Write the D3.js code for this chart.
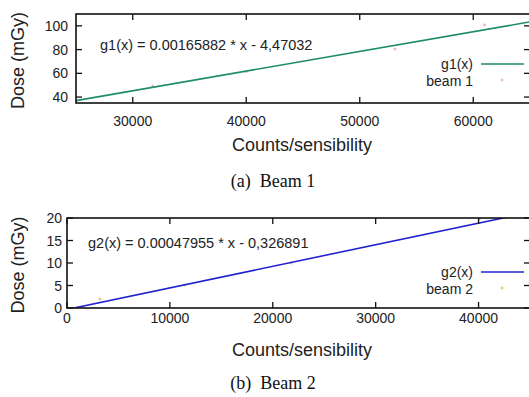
<!DOCTYPE html>
<html>
<head>
<meta charset="utf-8">
<script src="https://cdn.jsdelivr.net/npm/d3@7"></script>
<style>
  body { margin: 0; background: #fff; }
  svg { display: block; }
  .tick-label { font-family: "Liberation Sans", Arial, sans-serif; font-size: 14px; fill: #222; }
  .formula { font-family: "Liberation Sans", Arial, sans-serif; font-size: 14.5px; fill: #222; }
  .title { font-family: "Liberation Sans", Arial, sans-serif; font-size: 18px; fill: #222; }
  .caption { font-family: "Liberation Serif", "Times New Roman", serif; font-size: 18px; fill: #111; }
</style>
</head>
<body>
<div id="canvas"></div>
<script>
// beam 1 measurements (counts/sensibility vs dose in mGy)
const beam1X = [31750, 40000, 53100, 61000];
const beam1Y = [49.3, 61.3, 80.5, 100.8];
// beam 2 measurements
const beam2X = [3200, 11400, 21800, 40100];
const beam2Y = [2.0, 5.1, 10.0, 19.8];

// linear fits shown in the plots
const fit1 = {slope: 0.00165882, offset: -4.47032};
const fit2 = {slope: 0.00047955, offset: -0.326891};
const fit1Label = "g1(x) = 0.00165882 * x - 4,47032";
const fit2Label = "g2(x) = 0.00047955 * x - 0,326891";

// axis ticks
const xTicks1 = [30000, 40000, 50000, 60000];
const yTicks1 = [40, 60, 80, 100];
const xTicks2 = [0, 10000, 20000, 30000, 40000];
const yTicks2 = [0, 5, 10, 15, 20];

const W = 529, H = 397;
const svg = d3.select("#canvas")
    .append("svg")
    .attr("width", W)
    .attr("height", H);

// one gnuplot-like panel
function drawPanel(opt) {
    const x = d3.scaleLinear().domain(opt.xDomain).range([opt.left, opt.right]);
    const y = d3.scaleLinear().domain(opt.yDomain).range([opt.bottom, opt.top]);
    const g = svg.append("g");
    const tl = 6;

    const clipId = "clip-" + opt.id;
    g.append("clipPath").attr("id", clipId)
        .append("rect")
        .attr("x", opt.left).attr("y", opt.top)
        .attr("width", opt.right - opt.left).attr("height", opt.bottom - opt.top);

    // data points (small crosses)
    const pts = g.append("g").attr("clip-path", "url(#" + clipId + ")");
    opt.xs.forEach(function(v, i) {
        const px = x(v), py = y(opt.ys[i]);
        pts.append("path")
            .attr("d", "M" + (px - 1.5) + "," + py + "H" + (px + 1.5) + "M" + px + "," + (py - 1.5) + "V" + (py + 1.5))
            .style("stroke", opt.pointColor)
            .style("stroke-width", 1);
    });

    // fitted line
    const line = d3.line().x(d => x(d)).y(d => y(opt.fit.slope * d + opt.fit.offset));
    g.append("path")
        .datum(opt.xDomain)
        .attr("clip-path", "url(#" + clipId + ")")
        .attr("d", line)
        .style("fill", "none")
        .style("stroke", opt.lineColor)
        .style("stroke-width", 1.6);

    // ticks, inward and mirrored
    const ticks = g.append("g").style("stroke", "#111").style("stroke-width", 1.3);
    opt.xTicks.forEach(function(t) {
        ticks.append("line").attr("x1", x(t)).attr("x2", x(t)).attr("y1", opt.bottom).attr("y2", opt.bottom - tl);
        ticks.append("line").attr("x1", x(t)).attr("x2", x(t)).attr("y1", opt.top).attr("y2", opt.top + tl);
        g.append("text").attr("class", "tick-label")
            .attr("x", x(t)).attr("y", opt.xLabelY)
            .attr("text-anchor", "middle").attr("dominant-baseline", "central")
            .text(t);
    });
    opt.yTicks.forEach(function(t) {
        ticks.append("line").attr("x1", opt.left).attr("x2", opt.left + tl).attr("y1", y(t)).attr("y2", y(t));
        ticks.append("line").attr("x1", opt.right).attr("x2", opt.right - tl).attr("y1", y(t)).attr("y2", y(t));
        g.append("text").attr("class", "tick-label")
            .attr("x", opt.left - opt.yLabelGap).attr("y", y(t))
            .attr("text-anchor", "end").attr("dominant-baseline", "central")
            .text(t);
    });

    // frame
    g.append("rect")
        .attr("x", opt.left).attr("y", opt.top)
        .attr("width", opt.right - opt.left).attr("height", opt.bottom - opt.top)
        .style("fill", "none").style("stroke", "#111").style("stroke-width", 1.6);

    // fit formula
    g.append("text").attr("class", "formula")
        .attr("x", opt.labelX).attr("y", opt.labelY)
        .attr("dominant-baseline", "central")
        .text(opt.fitLabel);

    // key
    g.append("text").attr("class", "tick-label")
        .attr("x", 473).attr("y", opt.keyY)
        .attr("text-anchor", "end").attr("dominant-baseline", "central")
        .text(opt.keyNames[0]);
    g.append("line")
        .attr("x1", 481).attr("x2", 524).attr("y1", opt.keyY).attr("y2", opt.keyY)
        .style("stroke", opt.lineColor).style("stroke-width", 1.6);
    g.append("text").attr("class", "tick-label")
        .attr("x", 473).attr("y", opt.keyY + 17)
        .attr("text-anchor", "end").attr("dominant-baseline", "central")
        .text(opt.keyNames[1]);
    g.append("path")
        .attr("d", "M500.5," + (opt.keyY + 16) + "H503.5M502," + (opt.keyY + 14.5) + "V" + (opt.keyY + 17.5))
        .style("stroke", opt.pointColor).style("stroke-width", 1);

    // axis titles
    g.append("text").attr("class", "title")
        .attr("transform", "translate(18," + ((opt.top + opt.bottom) / 2 + 2) + ") rotate(-90)")
        .attr("text-anchor", "middle").attr("dominant-baseline", "central")
        .text("Dose (mGy)");
    g.append("text").attr("class", "title")
        .attr("x", 302).attr("y", opt.xTitleY)
        .attr("text-anchor", "middle").attr("dominant-baseline", "central")
        .text("Counts/sensibility");

    // caption
    g.append("text").attr("class", "caption")
        .attr("x", 273).attr("y", opt.captionY)
        .attr("text-anchor", "middle").attr("dominant-baseline", "central")
        .attr("xml:space", "preserve")
        .text(opt.caption);
}

drawPanel({
    id: "a",
    xDomain: [25000, 65000], yDomain: [35, 110],
    left: 76, right: 530, top: 14, bottom: 103,
    xs: beam1X, ys: beam1Y, fit: fit1, fitLabel: fit1Label,
    xTicks: xTicks1, yTicks: yTicks1,
    lineColor: "#1e8c6c", pointColor: "#f0a0b8",
    xLabelY: 120.5, yLabelGap: 8,
    labelX: 100, labelY: 45,
    keyY: 64, keyNames: ["g1(x)", "beam 1"],
    xTitleY: 145, captionY: 181, caption: "(a)  Beam 1"
});

drawPanel({
    id: "b",
    xDomain: [0, 45000], yDomain: [0, 20],
    left: 67, right: 530, top: 218, bottom: 308,
    xs: beam2X, ys: beam2Y, fit: fit2, fitLabel: fit2Label,
    xTicks: xTicks2, yTicks: yTicks2,
    lineColor: "#2222d0", pointColor: "#ccc450",
    xLabelY: 317.5, yLabelGap: 5,
    labelX: 88, labelY: 243,
    keyY: 272, keyNames: ["g2(x)", "beam 2"],
    xTitleY: 350, captionY: 383, caption: "(b)  Beam 2"
});
</script>
</body>
</html>
